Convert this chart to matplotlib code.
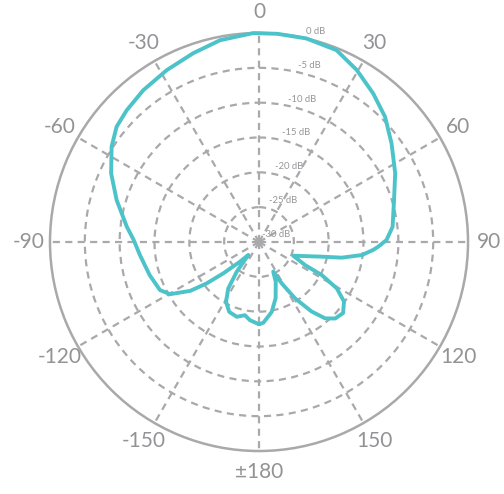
import numpy as np
import matplotlib
matplotlib.use("Agg")
import matplotlib.pyplot as plt
from matplotlib import transforms

# ---- data ----
angles_deg = [-180, -173.4, -169.1, -163.4, -156.9, -151.1, -146.5, -143.1, -140.5,
              -136, -131.3, -128.3, -125.4, -120.4, -115.9, -106.8, -96.2, -89,
              -83.4, -73.6, -65.1, -57.1, -51, -45.1, -37.3, -28.2, -19.2, -10.9,
              -1.6, 5, 13.1, 22, 29.6, 37.5, 45.2, 53.4, 63.2, 72.7, 83.5, 89.1,
              92.3, 94, 97.2, 100.7, 103.2, 106.3, 111.8, 116.6, 117.8, 120.8, 125,
              130.2, 135.1, 139.1, 142.9, 147.4, 151.2, 154.3, 157.2, 163.5, 169.7,
              176.9, 180]
levels_db = [-18.2, -18.7, -19.3, -18.8, -19.1, -20.2, -22.0, -24.7, -27.6,
             -26.1, -23.2, -20.4, -17.9, -15.2, -14.2, -13.6, -12.8, -12.0,
             -10.9, -8.7, -6.6, -4.8, -3.7, -3.2, -2.6, -2.0, -1.3, -0.5,
             0.0, 0.0, 0.0, -0.3, -1.6, -3.1, -4.5, -6.3, -8.1, -9.7, -10.7, -11.7,
             -12.9, -13.6, -15.1, -17.9, -20.8, -22.75, -24.7, -22.6, -19.8, -17.0, -15.1,
             -14.2, -14.5, -15.5, -17.5, -20.4, -23.2, -25.3, -23.8, -21.6, -19.8,
             -18.4, -18.2]

tick_angles = [0, 30, 60, 90, 120, 150, 180, 210, 240, 270, 300, 330]
tick_labels = ["0", "30", "60", "90", "120", "150", "\u00b1180", "-150", "-120", "-90", "-60", "-30"]
ring_levels = [-25, -20, -15, -10, -5]
db_label_levels = [0, -5, -10, -15, -20, -25, -30]

teal = "#4cc3c9"
grid_gray = "#a9a9ac"
label_gray = "#939396"

fig = plt.figure(figsize=(5.04, 4.94), dpi=100)
ax = fig.add_axes([0.0992, 0.0870, 0.8294, 0.8462], projection="polar")
ax.set_theta_zero_location("N")
ax.set_theta_direction(-1)
ax.set_ylim(-30, 0)

ax.set_rgrids(ring_levels, labels=[""] * len(ring_levels))
ax.set_thetagrids(tick_angles, labels=[""] * len(tick_angles))
ax.grid(True, color=grid_gray, linestyle=(0, (3.2, 2.4)), linewidth=1.6)
ax.spines["polar"].set_color(grid_gray)
ax.spines["polar"].set_linewidth(1.8)

# angle labels placed just outside the outer ring
label_r = 0 + 30 * (230 - 209) / 209.0
for a, t in zip(tick_angles, tick_labels):
    ax.text(np.deg2rad(a), label_r, t, ha="center", va="center", fontsize=15,
            color=label_gray, family=["Lato", "DejaVu Sans"], clip_on=False)

th = np.deg2rad(angles_deg)
ax.plot(th, levels_db, color=teal, linewidth=2.8, solid_joinstyle="round",
        solid_capstyle="round", clip_on=False, zorder=5)

# dB ring labels
for lvl in db_label_levels:
    r_frac = (lvl + 30) / 30.0
    trans = transforms.offset_copy(ax.transData, fig=fig, x=17, y=8 - 3 * r_frac, units="dots")
    ax.text(np.deg2rad(11), lvl, f"{lvl} dB", transform=trans, ha="center", va="center",
            fontsize=6.8, color="#97979a", family=["Lato", "DejaVu Sans"], zorder=4)

fig.savefig("out.png", dpi=100, facecolor="white")
